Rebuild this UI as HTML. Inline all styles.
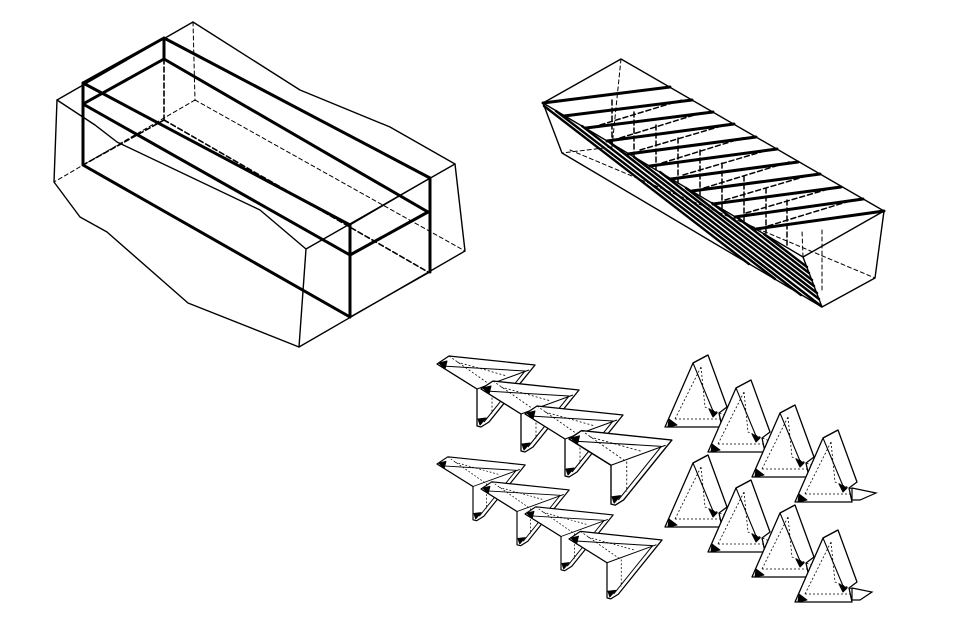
<!DOCTYPE html>
<html><head><meta charset="utf-8"><style>html,body{margin:0;padding:0;background:#fff}svg{display:block}</style></head><body>
<svg width="960" height="639" viewBox="0 0 960 639" xmlns="http://www.w3.org/2000/svg">
<defs>
<g id="wing" fill="none" stroke="#000" stroke-linejoin="round">
 <path d="M0,0 L12,-8 L98,1 L52,58 L44,63 L40,62 L40,25 Z" fill="#fff" stroke-width="1.3"/>
 <path d="M5,2 L88,7 L47,58" stroke-width="1"/>
 <path d="M0,0 L40,25 L92,6" stroke-width="1"/>
 <path d="M12,-8 L55,22 L55,50 M20,-2 L70,12" stroke-width="0.8" stroke-dasharray="2,2"/>
 <path d="M2,-1 L10,-3 L8,5 Z" fill="#000" stroke-width="1"/>
 <path d="M41,55 L49,54 L43,61 Z" fill="#000" stroke-width="1"/>
</g>
<g id="tri" fill="none" stroke="#000" stroke-linejoin="round">
 <path d="M0,0 L28,-64 L43,-72 L62,-20 L54,-14 L57,0 Z" fill="#fff" stroke-width="1.3"/>
 <path d="M28,-64 L48,-16 M43,-72 L28,-64" stroke-width="1.1"/>
 <path d="M3,0 L4,-8 L12,-2 Z" fill="#000" stroke-width="1"/>
 <path d="M44,-18 L52,-14 L48,-10 Z" fill="#000" stroke-width="1"/>
 <path d="M10,-8 L36,-60 M10,-8 L56,-8 M36,-60 L40,-20 L64,-10" stroke-width="0.8" stroke-dasharray="2,2"/>
</g>
</defs>
<g fill="none" stroke="#000" stroke-linejoin="round" stroke-linecap="round">
<!-- left block outer -->
<path d="M57,100 L193,22 L300,90 L390,127 L455,164 L465,251 L299,347 L188,303 L107,232 L80,217 L54,182 Z" stroke-width="1.4"/>
<path d="M57,100 L95,125 L117,142 L260,210 L306,249 L455,164 M306,249 L299,347" stroke-width="1.4"/>
<path d="M193,22 L195,100 M195,100 L54,182 M195,100 L465,251" stroke-width="1" stroke-dasharray="4,3"/>
<path d="M164,120 L83,165 M164,120 L428,272 M164,59 L164,120" stroke-width="1.6" stroke-dasharray="5,3"/>
<!-- inner thick -->
<path d="M83,83 L164,38 L430,178 M83,83 L350,225 M164,59 L428,212 M83,104 L164,59 M83,104 L350,255 L428,212 M83,83 L83,165 L350,317 M164,38 L164,59 M350,225 L350,317 M430,178 L430,272" stroke-width="3"/>
<path d="M350,225 L430,178 M350,317 L430,272" stroke-width="1.2"/>
<!-- right block -->
<path d="M543,103 L621,59 L884,211 L875,278 L822,307 L562,153 Z" stroke-width="1.4"/>
<path d="M543,103 L803,257 L884,211 M803,257 L822,307" stroke-width="1.4"/>
<path d="M621,59 L612,147 M570,150 L875,278 M612,147 L562,153 M822,230 L822,290 M803,257 L802,230" stroke-width="1" stroke-dasharray="4,3"/>
<g stroke-width="1.5" stroke-dasharray="5,3">
<path d="M600,125 L682,100 M620,138 L704,112 M640,150 L725,125 M662,163 L746,137 M683,175 L768,150 M704,188 L789,162 M725,200 L810,175 M746,213 L832,188 M768,226 L853,200 M612,100 L612,147 M634,112 L634,160 M656,125 L656,172 M678,138 L678,185 M700,150 L700,197 M722,163 L722,210 M744,176 L744,222 M766,188 L766,235 M787,200 L787,248"/>
</g>
<g stroke-width="3">
<path d="M543,103 L670,87 M564,116 L692,100 M586,128 L713,112 M607,141 L734,124 M628,154 L756,137 M650,166 L777,149 M671,179 L798,162 M692,191 L820,174 M713,204 L841,187 M735,217 L863,199 M756,229 L884,211"/>
<path d="M544,106 L749,264 M556,111 L775,279 M582,126 L801,295 M608,141 L821,306 M634,157 L819,299 M660,172 L817,293 M686,188 L814,286 M712,203 L812,280 M738,218 L809,273 M764,234 L807,267" stroke-width="2.4"/>
</g>
</g>
<!-- wings -->
<use href="#wing" x="437" y="364"/>
<use href="#wing" x="481" y="389"/>
<use href="#wing" x="525" y="414"/>
<use href="#wing" transform="translate(569,439) scale(1.05)"/>
<use href="#wing" transform="translate(437,464) scale(0.9)"/>
<use href="#wing" transform="translate(481,489) scale(0.9)"/>
<use href="#wing" transform="translate(525,514) scale(0.9)"/>
<use href="#wing" transform="translate(569,539) scale(0.95)"/>
<!-- triangles -->
<use href="#tri" x="665" y="427"/>
<use href="#tri" x="708" y="452"/>
<use href="#tri" x="752" y="477"/>
<use href="#tri" x="795" y="502"/>
<use href="#tri" x="665" y="527"/>
<use href="#tri" x="708" y="552"/>
<use href="#tri" x="752" y="577"/>
<use href="#tri" x="795" y="602"/>
<path d="M852,488 L876,493 L860,500 L852,500 Z" fill="#fff" stroke="#000" stroke-width="1.2"/>
<path d="M852,588 L872,592 L860,600 L852,600 Z" fill="#fff" stroke="#000" stroke-width="1.2"/>
</svg>
</body></html>
